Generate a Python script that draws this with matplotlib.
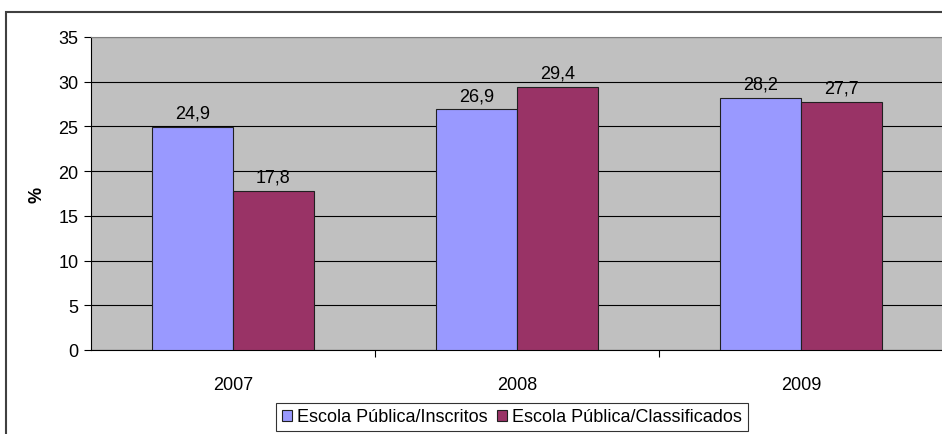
import numpy as np
import matplotlib
matplotlib.use("Agg")
import matplotlib.pyplot as plt
from matplotlib.patches import Rectangle

plt.rcParams["font.family"] = ["Liberation Sans", "DejaVu Sans"]

years = ["2007", "2008", "2009"]
inscritos = [24.9, 26.9, 28.2]
classificados = [17.8, 29.4, 27.7]
series_names = ["Escola Pública/Inscritos", "Escola Pública/Classificados"]

W, H = 942, 435
FS = 13
fig = plt.figure(figsize=(W / 100, H / 100), dpi=100)
fig.patch.set_facecolor("white")

# outer chart frame (runs off the right/bottom edge)
fig.patches.append(Rectangle((6 / W, -0.1), 1.2, 1 - 13 / H + 0.1,
                             transform=fig.transFigure, fill=False,
                             edgecolor="#404040", lw=1.5))

ax = fig.add_axes([91 / W, 1 - 351 / H, (943 - 91) / W, (351 - 38) / H])
ax.set_facecolor("#C0C0C0")

x = np.arange(len(years))
bw = 0.285
b1 = ax.bar(x - bw / 2, inscritos, bw, color="#9999FF", edgecolor="#202020", lw=0.8,
            label=series_names[0], zorder=3)
b2 = ax.bar(x + bw / 2, classificados, bw, color="#993366", edgecolor="#202020", lw=0.8,
            label=series_names[1], zorder=3)

for bars, vals in ((b1, inscritos), (b2, classificados)):
    for r, v in zip(bars, vals):
        ax.text(r.get_x() + r.get_width() / 2, v + 0.6, f"{v:.1f}".replace(".", ","),
                ha="center", va="bottom", fontsize=FS)

ax.set_xlim(-0.5, 2.5)
ax.set_ylim(0, 35)
ax.set_yticks(range(0, 36, 5))
ax.yaxis.grid(True, color="black", lw=0.8, zorder=0)
ax.set_axisbelow(True)

ax.set_xticks([0.5, 1.5], minor=False)
ax.set_xticklabels([])
ax.set_xticks(x, minor=True)
ax.set_xticklabels(years, minor=True, fontsize=FS)
ax.tick_params(axis="x", which="major", length=5, direction="out", color="black")
ax.tick_params(axis="x", which="minor", length=0, pad=19)
ax.tick_params(axis="y", length=5, direction="out", labelsize=FS, pad=4)

ax.spines["top"].set_color("#808080")
ax.spines["right"].set_visible(False)
ax.spines["left"].set_color("black")
ax.spines["bottom"].set_color("black")

ax.set_ylabel("%", fontsize=FS, fontweight="bold", labelpad=9)

leg = fig.legend(handles=[b1, b2], loc="center", bbox_to_anchor=(512 / W, 1 - 418 / H),
                 ncol=2, fontsize=FS, frameon=True, fancybox=False,
                 edgecolor="black", handlelength=0.55, handleheight=0.55,
                 handletextpad=0.3, columnspacing=0.5, borderpad=0.3)
leg.get_frame().set_linewidth(0.8)

fig.savefig("out.png", dpi=100, facecolor="white")
